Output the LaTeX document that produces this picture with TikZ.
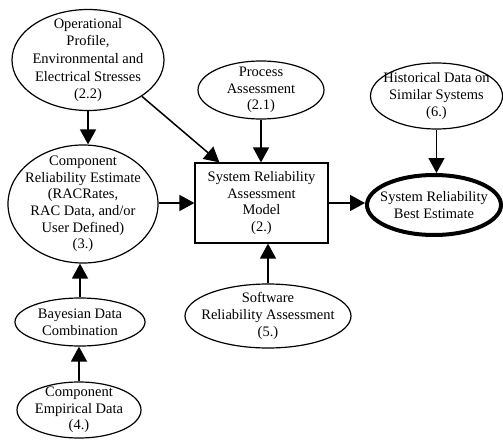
\documentclass[tikz,border=0pt]{standalone}
\usepackage{fontspec}
\setmainfont{Liberation Serif}
\usetikzlibrary{shapes.geometric,arrows.meta}
\begin{document}
\begin{tikzpicture}[x=1pt,y=-1pt,
  every node/.style={font=\fontsize{14.5}{16.6}\selectfont, align=center, inner sep=0pt},
  ell/.style={draw, ellipse, line width=1.2pt},
  boxst/.style={draw, rectangle, line width=1.2pt},
  conn/.style={line width=1.5pt, -{Triangle[length=15pt,width=16pt]}}]
\useasboundingbox (0,0) rectangle (503,441);
\node[ell, minimum width=152pt, minimum height=101pt,
  label={[font=\fontsize{14.5}{17.6}\selectfont]center:{Operational\\Profile,\\Environmental and\\Electrical Stresses\\(2.2)}}] (op) at (88,60) {};
\node[ell, minimum width=126pt, minimum height=58pt,
  label={center:{Process\\Assessment\\(2.1)}}] (proc) at (261,90) {};
\node[ell, minimum width=132pt, minimum height=66pt,
  label={center:{Historical Data on\\Similar Systems\\(6.)}}] (hist) at (436.5,96) {};
\node[boxst, minimum width=133pt, minimum height=80pt] (box) at (261.5,203)
  {System Reliability\\Assessment\\Model\\(2.)};
\node[draw, ellipse, line width=4pt, minimum width=134pt, minimum height=60pt,
  label={center:{System Reliability\\Best Estimate}}] (best) at (434,205) {};
\node[ell, minimum width=150pt, minimum height=118pt,
  label={center:{Component\\Reliability Estimate\\(RACRates,\\RAC Data, and/or\\User Defined)\\(3.)}}] (comp) at (83,204) {};
\node[ell, minimum width=130pt, minimum height=48pt,
  label={center:{Bayesian Data\\Combination}}] (bayes) at (80,322) {};
\node[ell, minimum width=124pt, minimum height=56pt,
  label={center:{Component\\Empirical Data\\(4.)}}] (emp) at (79,410) {};
\node[ell, minimum width=166pt, minimum height=64pt,
  label={center:{Software\\Reliability Assessment\\(5.)}}] (sw) at (268,316) {};
\draw[conn] (op.south) -- (op.south |- comp.north);
\draw[conn] (op.-34) -- ([xshift=25pt]box.north west);
\draw[conn] (proc.south) -- (proc.south |- box.north);
\draw[conn] (hist.south) -- (hist.south |- best.north);
\draw[conn] (comp.east |- box.west) -- (box.west);
\draw[conn] (box.east) -- (box.east -| best.west);
\draw[conn] (bayes.north) -- (bayes.north |- comp.south);
\draw[conn] (emp.north) -- (emp.north |- bayes.south);
\draw[conn] (sw.north) -- (sw.north |- box.south);
\end{tikzpicture}
\end{document}
